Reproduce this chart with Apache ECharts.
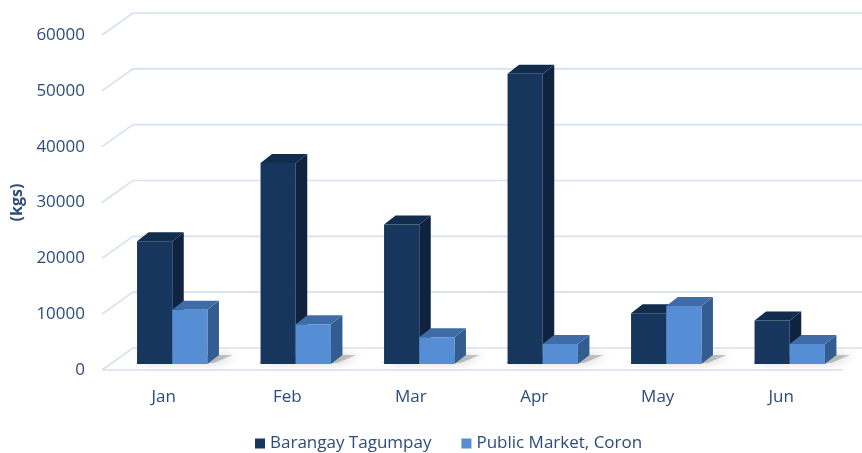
<!DOCTYPE html>
<html>
<head>
  <meta charset="utf-8" />
  <title>Monthly volume (kgs)</title>
  <script src="https://cdn.jsdelivr.net/npm/echarts@6/dist/echarts.min.js"></script>
  <style>
    html, body { margin: 0; padding: 0; background: #fff; }
  </style>
</head>
<body>
<div id="main" style="width: 862px;height:453px;"></div>
<script type="text/javascript">
  // data
  var months = ['Jan', 'Feb', 'Mar', 'Apr', 'May', 'Jun'];
  var tagumpay = [22000, 36000, 25000, 52000, 9100, 7800];
  var coron = [9700, 7100, 4800, 3600, 10400, 3600];
  var yTicks = [0, 10000, 20000, 30000, 40000, 50000, 60000];

  var seriesNames = ['Barangay Tagumpay', 'Public Market, Coron'];

  // fake 3d look: depth of the walls, where the bars sit and how deep they are
  var WALL_DX = 31, WALL_DY = 22;
  var BAR_DX = 8.5, BAR_DY = 6;
  var DEPTH_DX = 11.5, DEPTH_DY = 9;
  var BAR_RATIO = 0.285;

  var textColor = '#2c4c7c';
  var gridColor = '#d6e1f1';

  var chart = echarts.init(document.getElementById('main'));

  function toPairs(values) {
    return values.map(function (v, i) { return [i, v]; });
  }

  // back wall + left wall gridlines
  function renderWalls(params, api) {
    var v = api.value(1);
    var band = api.size([1, 0])[0];
    var p0 = api.coord([0, v]);
    var p1 = api.coord([months.length - 1, v]);
    var left = p0[0] - band / 2;
    var right = p1[0] + band / 2;
    var y = p0[1];
    var children = [{
      type: 'polyline',
      shape: { points: [[left, y], [left + WALL_DX, y - WALL_DY], [right + WALL_DX, y - WALL_DY]] },
      style: { stroke: gridColor, lineWidth: 1.6, fill: null }
    }];
    if (v === 0) {
      children.push({
        type: 'line',
        shape: { x1: left, y1: y, x2: right, y2: y },
        style: { stroke: gridColor, lineWidth: 1.6 }
      });
    }
    return { type: 'group', children: children };
  }

  // soft shadow under each pair of bars
  function renderShadow(params, api) {
    var idx = api.value(0);
    var base = api.coord([idx, 0]);
    var w = api.size([1, 0])[0] * BAR_RATIO;
    var x0 = base[0] + BAR_DX - w;
    var x1 = base[0] + BAR_DX + w;
    var yb = base[1] - BAR_DY;
    return {
      type: 'polygon',
      shape: { points: [[x0 - 2, yb - 1], [x1 + 6, yb - 1], [x1 + DEPTH_DX + 14, yb - DEPTH_DY], [x0 + DEPTH_DX, yb - DEPTH_DY]] },
      style: { fill: 'rgba(80,80,80,0.3)', shadowBlur: 10, shadowColor: 'rgba(0,0,0,0.6)', shadowOffsetX: 3 }
    };
  }

  function barRenderer(cols, onLeft) {
    return function (params, api) {
      var idx = api.value(0);
      var val = api.value(1);
      var base = api.coord([idx, 0]);
      var top = api.coord([idx, val]);
      var w = api.size([1, 0])[0] * BAR_RATIO;
      var x0 = base[0] + BAR_DX - (onLeft ? w : 0);
      var x1 = x0 + w;
      var yb = base[1] - BAR_DY;
      var yt = top[1] - BAR_DY;
      return {
        type: 'group',
        children: [
          {
            type: 'polygon',
            shape: { points: [[x1, yt], [x1 + DEPTH_DX, yt - DEPTH_DY], [x1 + DEPTH_DX, yb - DEPTH_DY], [x1, yb]] },
            style: { fill: cols.side }
          },
          {
            type: 'polygon',
            shape: { points: [[x0, yt], [x1, yt], [x1 + DEPTH_DX, yt - DEPTH_DY], [x0 + DEPTH_DX, yt - DEPTH_DY]] },
            style: { fill: cols.top }
          },
          {
            type: 'rect',
            shape: { x: x0, y: yt, width: w, height: yb - yt },
            style: { fill: cols.front }
          }
        ]
      };
    };
  }

  var darkCols = { front: '#17365d', top: '#122c4e', side: '#0f2340' };
  var lightCols = { front: '#558ed5', top: '#3f6ca6', side: '#335d90' };

  var option = {
    animation: false,
    textStyle: { fontFamily: 'Open Sans' },
    grid: { left: 102, right: 19, top: 35, bottom: 83 },
    legend: {
      data: seriesNames,
      top: 430,
      left: 250,
      icon: 'rect',
      itemWidth: 10,
      itemHeight: 10,
      itemGap: 30,
      textStyle: { color: textColor, fontSize: 17, fontFamily: 'Open Sans' }
    },
    xAxis: {
      type: 'category',
      data: months,
      axisLine: { show: false },
      axisTick: { show: false },
      splitLine: { show: false },
      axisLabel: { color: textColor, fontSize: 17, margin: 19 }
    },
    yAxis: {
      type: 'value',
      min: 0,
      max: 60000,
      interval: 10000,
      name: '(kgs)',
      nameLocation: 'middle',
      nameGap: 76,
      nameTextStyle: { color: textColor, fontSize: 16, fontWeight: 'bold' },
      axisLine: { show: false },
      axisTick: { show: false },
      splitLine: { show: false },
      axisLabel: {
        color: textColor,
        fontSize: 17,
        margin: 17,
        formatter: function (v) { return String(v); }
      }
    },
    series: [
      {
        type: 'custom',
        silent: true,
        z: 1,
        renderItem: renderWalls,
        data: yTicks.map(function (v) { return [0, v]; })
      },
      {
        type: 'custom',
        silent: true,
        z: 2,
        renderItem: renderShadow,
        data: toPairs(tagumpay)
      },
      {
        name: seriesNames[0],
        type: 'custom',
        z: 3,
        itemStyle: { color: darkCols.front },
        renderItem: barRenderer(darkCols, true),
        encode: { x: 0, y: 1 },
        data: toPairs(tagumpay)
      },
      {
        name: seriesNames[1],
        type: 'custom',
        z: 4,
        itemStyle: { color: lightCols.front },
        renderItem: barRenderer(lightCols, false),
        encode: { x: 0, y: 1 },
        data: toPairs(coron)
      }
    ]
  };

  option && chart.setOption(option);
</script>
</body>
</html>
